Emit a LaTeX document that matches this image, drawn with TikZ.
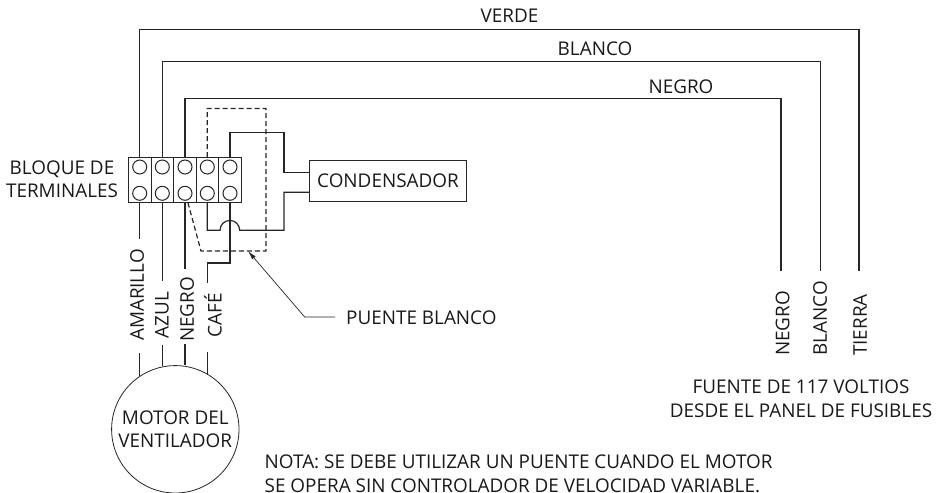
\documentclass[tikz,border=0pt]{standalone}
\usepackage{fontspec}
\usetikzlibrary{arrows.meta}
\setmainfont{Open Sans}
\tikzset{
    x=1pt, y=-1pt,
    wire/.style = {draw=black!85, line width=1.2pt},
    jumper/.style = {draw=black!85, line width=1.2pt, dash pattern=on 5pt off 3pt},
    terminal/.style = {draw=black!85, fill=white, line width=1pt, circle, minimum size=14pt, inner sep=0pt},
    cell/.style = {draw=black!85, line width=1pt, rectangle, minimum width=22.6pt, minimum height=45pt, inner sep=0pt},
    caption/.style = {font=\fontsize{18.9pt}{23.5pt}\selectfont, text=black!90, inner sep=0pt, align=center},
    wirelabel/.style = {caption, rotate=90},
}
\begin{document}
\begin{tikzpicture}
\useasboundingbox (0,0) rectangle (941,492);
\clip (0,0) rectangle (941,492);

% terminal block
\foreach \name/\xpos in {a/139.7,b/162.3,c/185,d/207.3,e/230}{
    \node[cell] (cell\name) at (\xpos,180.2) {};
    \node[terminal] (top\name) at (\xpos,167) {};
    \node[terminal] (bot\name) at (\xpos,193.3) {};
}
\node[caption] (block) at (62,179) {BLOQUE DE\\TERMINALES};

% condenser and motor
\node[draw=black!85, line width=1pt, minimum width=157.5pt, minimum height=41pt, inner sep=0pt, caption] (cond) at (388,181.2) {CONDENSADOR};
\node[draw=black!85, line width=.8pt, circle, minimum size=127.4pt, inner sep=0pt] (motor) at (175.3,429.3) {};
\node[caption] (motorlabel) at (175.3,429.3) {MOTOR DEL\\VENTILADOR};

% supply wires
\coordinate (negroend) at (781,271);
\coordinate (blancoend) at (820.3,271);
\coordinate (tierraend) at (859,271);
\draw[wire] (cella.north) |- (tierraend |- 0,29.3) -- (tierraend);
\draw[wire] (cellb.north) |- (blancoend |- 0,61.7) -- (blancoend);
\draw[wire] (cellc.north) |- (negroend |- 0,98.3) -- (negroend);
\node[caption] (verde) at (509.5,15.5) {VERDE};
\node[caption] (blanco) at (595,49) {BLANCO};
\node[caption] (negro) at (681,87) {NEGRO};

% capacitor wires
\draw[wire] (celle.north) |- (284,132.7) |- (cond.west |- 0,172.3);
\draw[wire] (cond.west |- 0,192.3) -| (284,230.3) -- (239.7,230.3) arc[start angle=0, end angle=-180, radius=9.85] -- (207.3,230.3) -- (celld.south);
\draw[wire] (celle.south) |- (207.3,263) -- (207.3,283);

% jumper
\draw[jumper] (celld.north) |- (266,108.5) |- (201,251) -- (188,203);
\coordinate (puentetip) at (248,251);
\node[caption, anchor=west] (puente) at (346,318) {PUENTE BLANCO};
\coordinate (puenteend) at (335,317);
\draw[black!85, line width=.7pt, -{Latex[length=9pt,width=4.5pt]}] (puenteend) -- (304.7,317) -- (puentetip);

% motor leads
\draw[wire] (cella.south) -- (139.7,239);
\draw[wire] (cellb.south) -- (162.3,281);
\draw[wire] (cellc.south) -- (185,269);
\draw[wire] (139.7,353) -- (139.7,376);
\draw[wire] (162.3,345) -- (162.3,366);
\draw[wire] (185,344) -- (185,365);
\draw[wire] (207.3,352) -- (207.3,374);
\node[wirelabel] (amarillo) at (137,295) {AMARILLO};
\node[wirelabel] (azul) at (162,315) {AZUL};
\node[wirelabel] (negrom) at (187,309.5) {NEGRO};
\node[wirelabel] (cafe) at (213,315.5) {CAFÉ};

% supply labels
\node[wirelabel, anchor=west] (negros) at (782.7,356) {NEGRO};
\node[wirelabel, anchor=west] (blancos) at (820,356) {BLANCO};
\node[wirelabel, anchor=west] (tierra) at (860,356) {TIERRA};
\node[caption] (fuente) at (801,398.5) {FUENTE DE 117 VOLTIOS\\DESDE EL PANEL DE FUSIBLES};

% note
\node[caption, align=left, anchor=north west] (nota) at (264.5,455) {NOTA: SE DEBE UTILIZAR UN PUENTE CUANDO EL MOTOR\\SE OPERA SIN CONTROLADOR DE VELOCIDAD VARIABLE.};
\end{tikzpicture}
\end{document}
